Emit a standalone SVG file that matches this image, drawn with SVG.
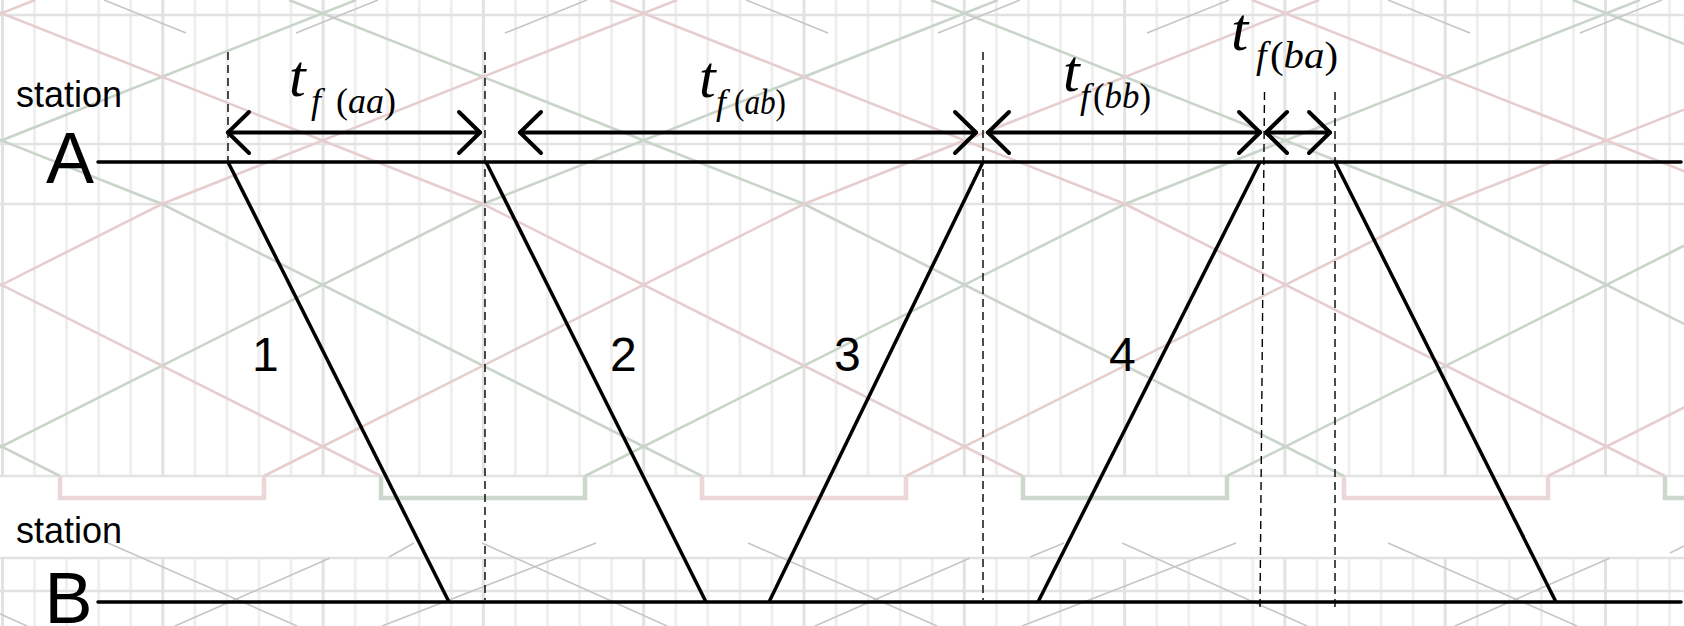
<svg xmlns="http://www.w3.org/2000/svg" width="1684" height="626" viewBox="0 0 1684 626">
<style>
.vg{stroke:#efefef;stroke-width:3;fill:none}
.vgd{stroke:#e2e2e2;stroke-width:3;fill:none}
.hg{stroke:#e2e2e2;stroke-width:2.5;fill:none}
.pk{stroke:#e6cece;stroke-width:2.6;fill:none}
.gn{stroke:#c9d5c9;stroke-width:2.6;fill:none}
.bpk{stroke:#ebd7d7;stroke-width:4.5;fill:none}
.bgn{stroke:#ccd8cc;stroke-width:4.5;fill:none}
.gr{stroke:#c6c6c6;stroke-width:1.6;fill:none}
.st{stroke:#000;stroke-width:3.5;fill:none;stroke-linecap:round}
.tr{stroke:#000;stroke-width:3.5;fill:none}
.ds{stroke:#000;stroke-width:1.4;fill:none;stroke-dasharray:8 5}
.ar{stroke:#000;stroke-width:4;fill:none;stroke-linecap:round;stroke-linejoin:round}
.sans{font-family:"Liberation Sans",Arial,sans-serif;fill:#000}
.ser{font-family:"Liberation Serif","Times New Roman",serif;fill:#000}
.it{font-style:italic}
</style>
<defs>
<marker id="chev" viewBox="-30 -30 60 60" markerUnits="userSpaceOnUse" markerWidth="60" markerHeight="60" refX="0" refY="0" orient="auto-start-reverse">
<path d="M -21 -20.5 L 0 0 L -21 20.5" fill="none" stroke="#000" stroke-width="4" stroke-linecap="round" stroke-linejoin="round"/>
</marker>
</defs>
<rect width="1684" height="626" fill="#fff"/>
<g id="background">
<path class="vg" d="M34.6 0V476M66.6 0V476M98.7 0V476M130.7 0V476M194.9 0V476M226.9 0V476M259 0V476M291 0V476M355.2 0V476M387.2 0V476M419.3 0V476M451.3 0V476M515.5 0V476M547.5 0V476M579.6 0V476M611.6 0V476M675.8 0V476M707.8 0V476M739.9 0V476M771.9 0V476M836.1 0V476M868.1 0V476M900.2 0V476M932.2 0V476M996.4 0V476M1028.4 0V476M1060.5 0V476M1092.5 0V476M1156.7 0V476M1188.7 0V476M1220.8 0V476M1252.8 0V476M1317 0V476M1349 0V476M1381.1 0V476M1413.1 0V476M1477.3 0V476M1509.3 0V476M1541.4 0V476M1573.4 0V476M1637.6 0V476M1669.6 0V476
M34.6 558V626M66.6 558V626M98.7 558V626M130.7 558V626M194.9 558V626M226.9 558V626M259 558V626M291 558V626M355.2 558V626M387.2 558V626M419.3 558V626M451.3 558V626M515.5 558V626M547.5 558V626M579.6 558V626M611.6 558V626M675.8 558V626M707.8 558V626M739.9 558V626M771.9 558V626M836.1 558V626M868.1 558V626M900.2 558V626M932.2 558V626M996.4 558V626M1028.4 558V626M1060.5 558V626M1092.5 558V626M1156.7 558V626M1188.7 558V626M1220.8 558V626M1252.8 558V626M1317 558V626M1349 558V626M1381.1 558V626M1413.1 558V626M1477.3 558V626M1509.3 558V626M1541.4 558V626M1573.4 558V626M1637.6 558V626M1669.6 558V626"/>
<path class="vgd" d="M2.5 0V476M162.8 0V476M323.1 0V476M483.4 0V476M643.7 0V476M804 0V476M964.3 0V476M1124.6 0V476M1284.9 0V476M1445.2 0V476M1605.5 0V476
M2.5 558V626M162.8 558V626M323.1 558V626M483.4 558V626M643.7 558V626M804 558V626M964.3 558V626M1124.6 558V626M1284.9 558V626M1445.2 558V626M1605.5 558V626"/>
<path class="hg" d="M0 15H1684M0 144H1684M0 204H1684M0 476H1684M0 558H1684M0 591H1684"/>
<path class="gn" d="M-995 0L-480 204L60 476M-353 0L162 204L702 476M289 0L804 204L1344 476M931 0L1446 204L1986 476M1573 0L2088 204
M-699 476L-159 204L356 0M-57 476L483 204L998 0M585 476L1125 204L1640 0M1227 476L1767 204L2282 0"/>
<path class="pk" d="M-674 0L-159 204L381 476M-32 0L483 204L1023 476M610 0L1125 204L1665 476M1252 0L1767 204L2307 476
M-1020 476L-480 204L35 0M-378 476L162 204L677 0M264 476L804 204L1319 0M906 476L1446 204L1961 0M1548 476L2088 204"/>
<path class="bpk" d="M60 476V498H264V476M702 476V498H906V476M1344 476V498H1548V476"/>
<path class="bgn" d="M381 476V498H585V476M1023 476V498H1227V476M1665 476V498H1869V476"/>
<path class="gr" d="M104 0L186 33M746 0L828 33M1388 0L1470 33M296 33L378 0M938 33L1020 0M1580 33L1662 0M505 33L587 0M1147 33L1229 0
M108 543L297 626M748 543L937 626M1388 543L1577 626M175 626L330 558M815 626L970 558M1455 626L1610 558M-158 543L27 626M482 543L667 626M1122 543L1307 626M382 626L596 543M1022 626L1236 543M389 557L414 543M1030 557L1064 543M1670 553L1684 546"/>
</g>
<g id="station-a">
<text class="sans" x="16" y="107" font-size="36">station</text>
<text class="sans" x="46" y="183" font-size="72">A</text>
<path class="st" d="M98 162H1681"/>
</g>
<g id="station-b">
<text class="sans" x="16" y="543" font-size="36">station</text>
<text class="sans" x="44.5" y="623" font-size="72">B</text>
<path class="st" d="M98 602H1681"/>
</g>
<g id="connectors">
<g id="trains">
<path class="tr" d="M228 162L449 602"/>
<path class="tr" d="M486 162L706 602"/>
<path class="tr" d="M769 602L983 162"/>
<path class="tr" d="M1038 602L1260 162"/>
<path class="tr" d="M1335 162L1556 602"/>
</g>
<g id="guides">
<path class="ds" d="M228 52V162M485 52V600M983 52V600M1264.5 92L1260 607M1335 92V607"/>
</g>
<g id="intervals">
<path class="ar" d="M228 132.5H480" marker-start="url(#chev)" marker-end="url(#chev)"/>
<path class="ar" d="M520 132.5H976" marker-start="url(#chev)" marker-end="url(#chev)"/>
<path class="ar" d="M988 132.5H1260" marker-start="url(#chev)" marker-end="url(#chev)"/>
<path class="ar" d="M1266 132.5H1330" marker-start="url(#chev)" marker-end="url(#chev)"/>
</g>
</g>
<g id="train-1"><text class="sans" x="252" y="371" font-size="48">1</text></g>
<g id="train-2"><text class="sans" x="610" y="371" font-size="48">2</text></g>
<g id="train-3"><text class="sans" x="834" y="371" font-size="48">3</text></g>
<g id="train-4"><text class="sans" x="1109" y="371" font-size="48">4</text></g>
<g id="label-aa">
<text class="ser it" x="289" y="96" font-size="60">t</text>
<text class="ser it" x="311" y="113" font-size="36">f</text>
<text class="ser" x="336" y="113" font-size="36" textLength="60" lengthAdjust="spacingAndGlyphs">(<tspan class="it">aa</tspan>)</text>
</g>
<g id="label-ab">
<text class="ser it" x="699" y="97" font-size="60">t</text>
<text class="ser it" x="716" y="114" font-size="36">f</text>
<text class="ser" x="734" y="114" font-size="36" textLength="52" lengthAdjust="spacingAndGlyphs">(<tspan class="it">ab</tspan>)</text>
</g>
<g id="label-bb">
<text class="ser it" x="1063" y="91" font-size="60">t</text>
<text class="ser it" x="1080" y="108" font-size="36">f</text>
<text class="ser" x="1093" y="108" font-size="36" textLength="58" lengthAdjust="spacingAndGlyphs">(<tspan class="it">bb</tspan>)</text>
</g>
<g id="label-ba">
<text class="ser it" x="1231" y="50" font-size="62">t</text>
<text class="ser it" x="1256" y="68" font-size="38">f</text>
<text class="ser" x="1270" y="68" font-size="38" textLength="68" lengthAdjust="spacingAndGlyphs">(<tspan class="it">ba</tspan>)</text>
</g>
</svg>
